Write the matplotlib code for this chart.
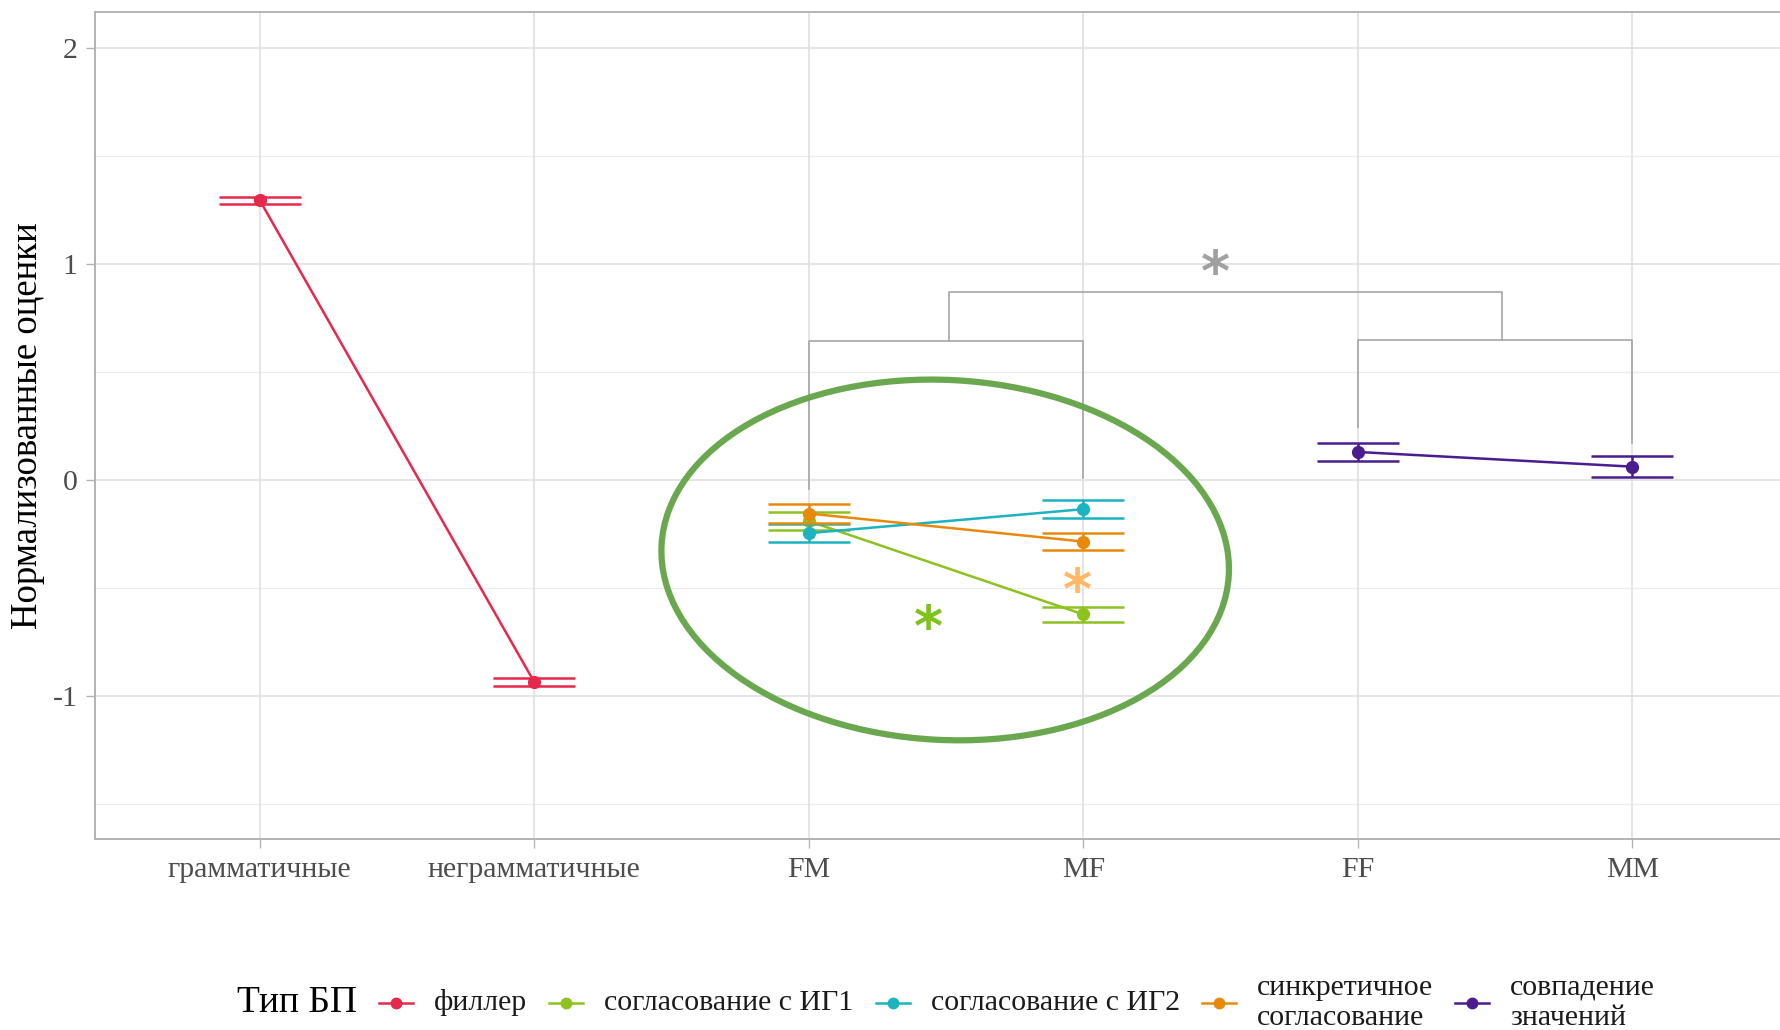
import matplotlib
matplotlib.use("Agg")
import matplotlib.pyplot as plt
from matplotlib.lines import Line2D
from matplotlib.patches import Ellipse
from matplotlib.transforms import IdentityTransform

# ---- data -------------------------------------------------------------
categories = ["грамматичные", "неграмматичные", "FM", "MF", "FF", "MM"]

series_names = ["филлер", "согласование с ИГ1", "согласование с ИГ2",
                "синкретичное\nсогласование", "совпадение\nзначений"]
series_colors = ["#e6284b", "#8dc21f", "#1bb3bf", "#e8890c", "#4a1d8f"]

filler_x = ["грамматичные", "неграмматичные"]
filler_mean = [1.296, -0.935]
filler_err = [0.016, 0.018]

ig1_x = ["FM", "MF"]
ig1_mean = [-0.190, -0.622]
ig1_err = [0.040, 0.034]

ig2_x = ["FM", "MF"]
ig2_mean = [-0.246, -0.135]
ig2_err = [0.042, 0.041]

sync_x = ["FM", "MF"]
sync_mean = [-0.155, -0.285]
sync_err = [0.042, 0.038]

match_x = ["FF", "MM"]
match_mean = [0.130, 0.062]
match_err = [0.041, 0.047]

y_ticks = [-1, 0, 1, 2]
y_tick_labels = ["-1", "0", "1", "2"]

# ---- style ------------------------------------------------------------
plt.rcParams["font.family"] = ["Liberation Serif", "DejaVu Serif"]
W, H = 1780, 1030
DPI = 100
fig = plt.figure(figsize=(W / DPI, H / DPI), dpi=DPI)

ax_left, ax_right, ax_top, ax_bottom = 95, 1797, 12, 839
ax = fig.add_axes([ax_left / W, (H - ax_bottom) / H,
                   (ax_right - ax_left) / W, (ax_bottom - ax_top) / H])

xpos = {c: i + 1 for i, c in enumerate(categories)}
ax.set_xlim(0.4, 6.6)
ax.set_ylim(-1.662, 2.167)

# grid
for yv in [-1.5, -0.5, 0.5, 1.5]:
    ax.axhline(yv, color="#ececec", lw=0.9, zorder=0)
for yv in y_ticks:
    ax.axhline(yv, color="#e0e0e0", lw=1.2, zorder=0)
for xv in range(1, 7):
    ax.axvline(xv, color="#e0e0e0", lw=1.2, zorder=0)

for s in ax.spines.values():
    s.set_color("#b3b3b3")
    s.set_linewidth(1.4)

ax.set_xticks([xpos[c] for c in categories])
ax.set_xticklabels(categories)
ax.set_yticks(y_ticks)
ax.set_yticklabels(y_tick_labels)
ax.tick_params(axis="both", length=6.5, width=1.0, color="#b3b3b3",
               labelcolor="#4d4d4d", labelsize=21.5)
ax.tick_params(axis="x", pad=6.5)
ax.tick_params(axis="y", pad=6)

# ---- series -----------------------------------------------------------
series = [
    (filler_x, filler_mean, filler_err),
    (ig1_x, ig1_mean, ig1_err),
    (ig2_x, ig2_mean, ig2_err),
    (sync_x, sync_mean, sync_err),
    (match_x, match_mean, match_err),
]
cap_half = 0.15
for k, ((xs, means, errs), color) in enumerate(zip(series, series_colors)):
    xv = [xpos[c] for c in xs]
    z = 3 + k
    ax.plot(xv, means, color=color, lw=1.8, zorder=z)
    lo = [m - e for m, e in zip(means, errs)]
    hi = [m + e for m, e in zip(means, errs)]
    ax.vlines(xv, lo, hi, color=color, lw=1.8, zorder=z)
    ax.hlines(lo, [x - cap_half for x in xv], [x + cap_half for x in xv],
              color=color, lw=1.8, zorder=z)
    ax.hlines(hi, [x - cap_half for x in xv], [x + cap_half for x in xv],
              color=color, lw=1.8, zorder=z)
    ax.plot(xv, means, "o", color=color, ms=8.5, zorder=z)

# ---- significance brackets -------------------------------------------
br = "#a6a6a6"
blw = 1.2
ax.plot([3, 3, 4, 4], [-0.04, 0.645, 0.645, 0.01], color=br, lw=blw, zorder=2)
ax.plot([5, 5, 6, 6], [0.246, 0.648, 0.648, 0.17], color=br, lw=blw, zorder=2)
ax.plot([3.51, 3.51, 5.525, 5.525], [0.645, 0.87, 0.87, 0.648],
        color=br, lw=blw, zorder=2)


def star(x, y, color):
    # centre a large bold asterisk glyph on (x, y)
    ax.annotate("*", (x, y), xytext=(0, -0.5 * 40), textcoords="offset points",
                ha="center", va="baseline", fontsize=40, color=color,
                family="DejaVu Sans", fontweight="bold", zorder=10)


star(4.48, 1.01, "#a0a0a0")
star(3.435, -0.633, "#80c21a")
star(3.98, -0.463, "#ffb865")

# ---- highlight ellipse -------------------------------------------------
cx, cy = ax.transData.transform((3.497, -0.370))
ell = Ellipse((cx, cy), 568, 360, angle=-3, fill=False, edgecolor="#6aa84f",
              lw=4.5, transform=IdentityTransform(), zorder=11, clip_on=False)
fig.add_artist(ell)

# ---- axis title ---------------------------------------------------------
fig.text(28 / W, (H - (ax_top + ax_bottom) / 2) / H, "Нормализованные оценки",
         rotation=90, ha="center", va="center", fontsize=26.5, color="black")

# ---- legend -------------------------------------------------------------
renderer = fig.canvas.get_renderer()
y_leg = (H - 1003) / H
title = fig.text(0, y_leg, "Тип БП", fontsize=27, ha="left", va="center",
                 color="black")
labels = [fig.text(0, y_leg, n, fontsize=21.5, ha="left", va="center",
                   linespacing=1.2, color="#1a1a1a") for n in series_names]
tw = title.get_window_extent(renderer).width
lws = [t.get_window_extent(renderer).width for t in labels]
gap, hlen, hgap = 22, 34, 21
total = tw + sum(gap + hlen + hgap + w for w in lws)
x = (ax_left + ax_right) / 2 - total / 2
title.set_x(x / W)
x += tw
for t, w, c in zip(labels, lws, series_colors):
    x += gap
    fig.add_artist(Line2D([x / W, (x + hlen) / W], [y_leg, y_leg], color=c,
                          lw=1.8, transform=fig.transFigure))
    fig.add_artist(Line2D([(x + hlen / 2) / W], [y_leg], marker="o", ms=7.5,
                          color=c, transform=fig.transFigure))
    x += hlen + hgap
    t.set_x(x / W)
    x += w

fig.savefig("out.png", dpi=DPI)
